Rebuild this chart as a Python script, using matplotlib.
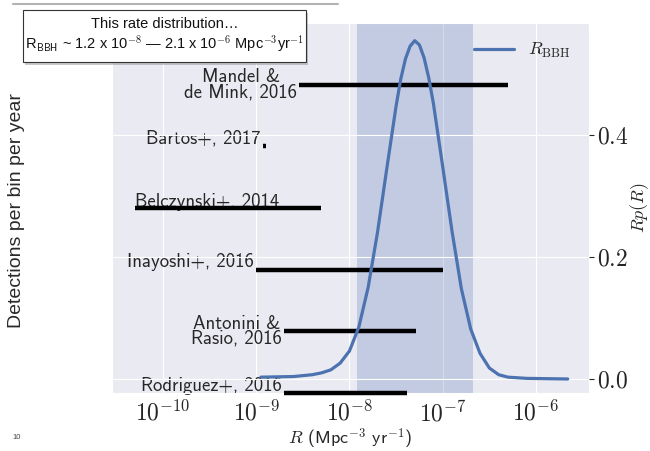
import numpy as np
import matplotlib
matplotlib.use("Agg")
import matplotlib.pyplot as plt
import seaborn as sns
from matplotlib.patches import Rectangle
from matplotlib.lines import Line2D
from matplotlib.ticker import FixedLocator, FuncFormatter, NullLocator

sns.set_style("darkgrid")
plt.rcParams['font.family'] = ['cmss10', 'DejaVu Sans']
plt.rcParams['mathtext.fontset'] = 'cm'
plt.rcParams['axes.unicode_minus'] = False

# rate posterior, R p(R) against log10 R
log_rate = [-8.95, -8.6, -8.4, -8.3, -8.2, -8.1, -8.0, -7.9, -7.8, -7.7,
            -7.6, -7.5, -7.45, -7.4, -7.35, -7.3, -7.25, -7.2, -7.15, -7.1,
            -7.0, -6.9, -6.8, -6.7, -6.6, -6.5, -6.4, -6.3, -6.1, -5.66]
rate_pdf = [0.003, 0.004, 0.007, 0.010, 0.015, 0.026, 0.046, 0.085, 0.150, 0.240,
            0.345, 0.448, 0.492, 0.525, 0.546, 0.555, 0.548, 0.527, 0.494, 0.452,
            0.348, 0.242, 0.148, 0.082, 0.042, 0.018, 0.007, 0.003, 0.001, 0.0]

# 90% interval of the rate
rate_interval = [1.2e-8, 2.1e-7]

# model predictions, one row each
model_names = ["Rodriguez+, 2016", "Antonini &\nRasio, 2016", "Inayoshi+, 2016",
               "Belczynski+, 2014", "Bartos+, 2017", "Mandel &\nde Mink, 2016"]
model_lo = [2.0e-9, 2.0e-9, 1.0e-9, 5.0e-11, 1.19e-9, 2.9e-9]
model_hi = [4.1e-8, 5.2e-8, 1.0e-7, 5.0e-9, 1.27e-9, 5.0e-7]
model_rows = [0, 1, 2, 3, 4, 5]

xticks = [1e-10, 1e-9, 1e-8, 1e-7, 1e-6]
yticks = [0.0, 0.2, 0.4]

fig = plt.figure(figsize=(6.5, 4.51), dpi=100)
ax = fig.add_axes([0.1723, 0.1286, 0.7338, 0.8204])
ax.set_xscale('log')
ax.set_xlim(2.84e-11, 3.7e-6)
ax.set_ylim(0, 6)
ax.set_yticks([])

ax.axvspan(rate_interval[0], rate_interval[1], color='#4C72B0', alpha=0.25, lw=0)

for name, lo, hi, row in zip(model_names, model_lo, model_hi, model_rows):
    ax.plot([lo, hi], [row, row], color='black', lw=3.2, solid_capstyle='butt',
            clip_on=False, zorder=3)
    if lo < 1e-10:
        ax.text(lo, row + 0.02, name, ha='left', va='baseline', fontsize=13.5,
                color='#262626', zorder=2)
    elif '\n' in name:
        ax.text(lo * 0.95, row + 0.0, name, ha='right', va='center', fontsize=13.5,
                color='#262626', multialignment='center', linespacing=0.8, zorder=2)
    else:
        ax.text(lo * 0.93, row + 0.04, name, ha='right', va='baseline', fontsize=13.5,
                color='#262626', zorder=2)

ax.set_xlabel(r'$R$ (Mpc$^{-3}$ yr$^{-1}$)', fontsize=13, labelpad=0)

# the curve sits on its own y scale, shown on the right
ax2 = ax.twinx()
ax2.set_ylim(-0.023, 0.584)
ax2.plot(np.power(10.0, log_rate), rate_pdf, color='#4C72B0', lw=2.3,
         label=r'$R_{\rm BBH}$')
ax2.yaxis.set_major_locator(FixedLocator(yticks))
ax2.yaxis.set_major_formatter(FuncFormatter(lambda v, p: r'$%.1f$' % v))
ax2.tick_params(axis='y', labelsize=17, pad=2)
ax2.xaxis.grid(False)
ax2.set_ylabel(r'$Rp(R)$', fontsize=13)
ax2.yaxis.set_label_coords(1.082, 0.5)
for s in ax2.spines.values():
    s.set_visible(False)
ax2.legend(loc='upper right', frameon=False, fontsize=13, handlelength=2.2,
           borderaxespad=0.6)

ax.xaxis.set_major_locator(FixedLocator(xticks))
ax.xaxis.set_minor_locator(NullLocator())
ax.xaxis.set_major_formatter(FuncFormatter(lambda v, p: r'$10^{%d}$' % round(np.log10(v))))
ax.tick_params(axis='x', labelsize=17, pad=2)

fig.text(0.025, 0.534, "Detections per bin per year", rotation=90, ha='center',
         va='center', fontsize=14, family='Liberation Sans', color='#2a2a2a')
fig.text(0.019, 0.027, "10", fontsize=5.5, family='Liberation Sans', color='#444444')

# callout box in the top-left corner
fig.add_artist(Line2D([0.02, 0.52], [0.991, 0.991], color='#a0a0a0', lw=1.5, alpha=0.8))
fig.add_artist(Rectangle((0.0384, 0.8558), 0.435, 0.1153, transform=fig.transFigure,
                         facecolor='#888888', edgecolor='none', alpha=0.45, zorder=4))
fig.add_artist(Rectangle((0.0354, 0.8625), 0.435, 0.1153, transform=fig.transFigure,
                         facecolor='white', edgecolor='#333333', lw=0.8, zorder=5))
fig.text(0.253, 0.947, "This rate distribution\u2026", ha='center', va='center',
         fontsize=10.5, family='Liberation Sans', color='#111111', zorder=6)
fig.text(0.253, 0.903,
         "R$_{\\mathsf{BBH}}$ ~ 1.2 x 10$^{-8}$ \u2014 2.1 x 10$^{-6}$ Mpc$^{-3}$yr$^{-1}$",
         ha='center', va='center', fontsize=10.5, family='Liberation Sans',
         color='#111111', zorder=6)

fig.savefig("out.png", dpi=100)
